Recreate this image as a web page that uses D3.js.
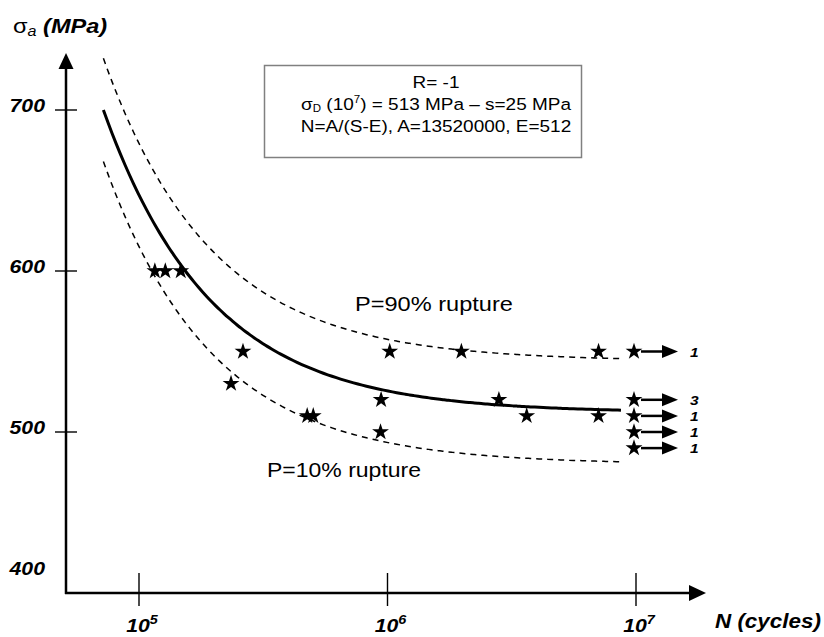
<!DOCTYPE html>
<html>
<head>
<meta charset="utf-8">
<script src="https://cdn.jsdelivr.net/npm/d3@7"></script>
<style>
  body { margin: 0; background: #fff; }
  svg { display: block; }
  text { font-family: "Liberation Sans", Arial, sans-serif; fill: #000; }
</style>
</head>
<body>
<script>
// Fatigue results at R = -1: broken specimens (cycles, stress amplitude in MPa)
const failuresN = [118000, 130000, 150000, 239000, 267000, 484000, 512000,
                   955000, 960000, 1040000, 2020000, 2860000, 3700000, 7200000, 7200000];
const failuresS = [600, 600, 600, 530, 550, 510, 510,
                   500, 520, 550, 550, 520, 510, 550, 510];

// Run-outs stopped at 10^7 cycles, with the number of specimens at each level
const runoutN = 1e7;
const runoutS = [550, 520, 510, 500, 490];
const runoutCount = ["1", "3", "1", "1", "1"];

// Axis ticks
const xTicks = [1e5, 1e6, 1e7];
const xTickExp = ["5", "6", "7"];
const yTicks = [400, 500, 600, 700];

// Fitted S-N model N = A/(S-E), scatter s; P=10% / P=90% bands at ±1.2816 s
const fitA = 13520000;
const fitE = 512;
const fitScatter = 25;
const zP90 = 1.2816;
const curveN = [7.19e4, 8.7e6];

const W = 824, H = 637;
const SX = 1.15; // horizontal stretch applied to every label

const svg = d3.select("body").append("svg")
  .attr("width", W).attr("height", H);

const x = d3.scaleLog().domain([1e5, 1e7]).range([139, 636]);
const y = d3.scaleLinear().domain([400, 700]).range([593, 110]);

const axisX0 = 66, axisY0 = y(400);

// Helper: text stretched horizontally around its anchor point
function label(px, py, size, opts = {}) {
  const t = svg.append("text")
    .attr("transform", `translate(${px},${py}) scale(${SX},1)`)
    .attr("font-size", size)
    .attr("text-anchor", opts.anchor || "start");
  if (opts.bold) t.attr("font-weight", "bold");
  if (opts.italic) t.attr("font-style", "italic");
  return t;
}

// ---- Axes ----
const axes = svg.append("g").attr("stroke", "#000").attr("fill", "none");
axes.append("line").attr("x1", axisX0).attr("x2", axisX0)
  .attr("y1", axisY0 + 1).attr("y2", 66).attr("stroke-width", 2.5);
axes.append("line").attr("x1", axisX0 - 1).attr("x2", 692)
  .attr("y1", axisY0).attr("y2", axisY0).attr("stroke-width", 2.5);
svg.append("path").attr("fill", "#000")
  .attr("d", `M${axisX0},53 L${axisX0 + 7.5},69 L${axisX0 - 7.5},69 Z`);
svg.append("path").attr("fill", "#000")
  .attr("d", `M706,${axisY0} L689,${axisY0 - 8} L689,${axisY0 + 8} Z`);

// y ticks and labels
yTicks.forEach(v => {
  if (v > 400) {
    axes.append("line").attr("x1", axisX0 - 11).attr("x2", axisX0 + 11)
      .attr("y1", y(v)).attr("y2", y(v)).attr("stroke-width", 1.4);
  }
  const ly = Math.min(y(v) + 2, axisY0 - 18);
  label(45, ly, 18.5, { anchor: "end", bold: true, italic: true }).text(v);
});

// x ticks and labels
xTicks.forEach((v, i) => {
  axes.append("line").attr("x1", x(v)).attr("x2", x(v))
    .attr("y1", axisY0 - 20).attr("y2", axisY0 + 13).attr("stroke-width", 1.4);
  const t = label(x(v) + 3, 632, 18.5, { anchor: "middle", bold: true, italic: true });
  t.append("tspan").text("10");
  t.append("tspan").attr("font-size", 12.5).attr("dy", -8).text(xTickExp[i]);
});

// axis titles
{
  const t = label(13, 33, 20.5, {});
  t.append("tspan").text("σ");
  t.append("tspan").attr("font-size", 14).attr("font-style", "italic").attr("dy", 3).text("a");
  t.append("tspan").attr("font-weight", "bold").attr("font-style", "italic").attr("dy", -3).text(" (MPa)");
}
label(715, 628, 19.5, { bold: true, italic: true }).text("N (cycles)");

// ---- Model curves ----
const logN0 = Math.log10(curveN[0]), logN1 = Math.log10(curveN[1]);
const nSamples = d3.range(0, 121).map(i => Math.pow(10, logN0 + (logN1 - logN0) * i / 120));
const line = d3.line().x(d => x(d[0])).y(d => y(d[1])).curve(d3.curveMonotoneX);
const curveFor = offset => nSamples.map(n => [n, fitE + offset + fitA / n]);

svg.append("path").datum(curveFor(0)).attr("d", line)
  .attr("fill", "none").attr("stroke", "#000").attr("stroke-width", 3);
[zP90 * fitScatter, -zP90 * fitScatter].forEach(off => {
  svg.append("path").datum(curveFor(off)).attr("d", line)
    .attr("fill", "none").attr("stroke", "#000").attr("stroke-width", 1.5)
    .attr("stroke-dasharray", "6,5");
});

// ---- Data points ----
const star = d3.symbol().type(d3.symbolStar).size(88);
svg.append("g").selectAll("path")
  .data(failuresN.map((n, i) => [n, failuresS[i]]))
  .join("path")
  .attr("d", star)
  .attr("transform", d => `translate(${x(d[0]) - 2},${y(d[1])})`)
  .attr("fill", "#000");

// run-outs with arrows and counts
const ro = svg.append("g");
runoutS.forEach((s, i) => {
  const cx = x(runoutN) - 2, cy = y(s);
  ro.append("path").attr("d", star()).attr("transform", `translate(${cx},${cy})`).attr("fill", "#000");
  ro.append("line").attr("x1", cx + 7).attr("x2", cx + 30)
    .attr("y1", cy).attr("y2", cy).attr("stroke", "#000").attr("stroke-width", 2.5);
  ro.append("path").attr("fill", "#000")
    .attr("d", `M${cx + 44},${cy} L${cx + 28},${cy - 6.5} L${cx + 28},${cy + 6.5} Z`);
  label(cx + 56, cy + 5, 13.5, { bold: true, italic: true }).text(runoutCount[i]);
});

// ---- Probability labels ----
label(355, 311, 20.5, {}).text("P=90% rupture");
label(267, 477, 20, {}).text("P=10% rupture");

// ---- Parameter box ----
svg.append("rect").attr("x", 264.5).attr("y", 65.5).attr("width", 317).attr("height", 92)
  .attr("fill", "#fff").attr("stroke", "#808080").attr("stroke-width", 1.5);
const bx = 436;
label(bx, 88, 16.5, { anchor: "middle" }).text("R= -1");
{
  const t = label(bx, 110, 16.5, { anchor: "middle" });
  t.append("tspan").text("σ");
  t.append("tspan").attr("font-size", 10).attr("dy", 2).text("D");
  t.append("tspan").attr("dy", -2).text(" (10");
  t.append("tspan").attr("font-size", 10).attr("dy", -7).text("7");
  t.append("tspan").attr("dy", 7).text(") = 513 MPa – s=25 MPa");
}
label(bx, 132, 16.5, { anchor: "middle" }).text("N=A/(S-E), A=13520000, E=512");
</script>
</body>
</html>
